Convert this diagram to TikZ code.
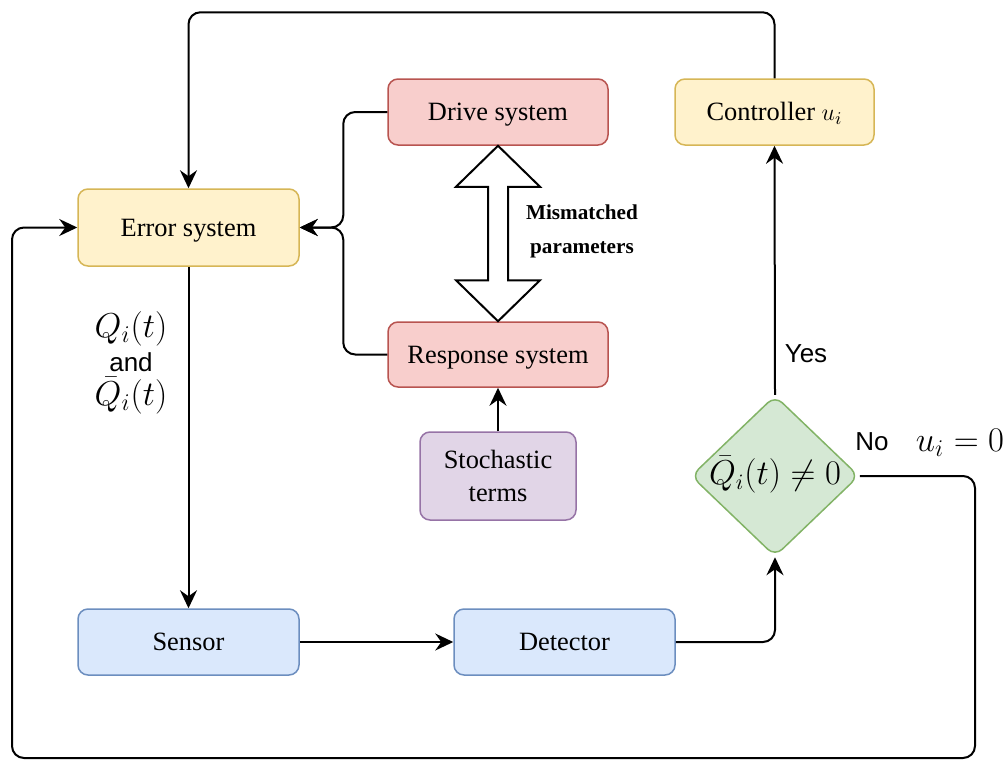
\documentclass[tikz,border=0pt]{standalone}
\usepackage{amsmath}
\usepackage{amssymb}
\usepackage{fontspec}
\setmainfont{Liberation Serif}
\setsansfont{Liberation Sans}
\usetikzlibrary{shapes.geometric, arrows.meta, positioning, calc}

\definecolor{yfill}{HTML}{FFF2CC}\definecolor{ydraw}{HTML}{D6B656}
\definecolor{rfill}{HTML}{F8CECC}\definecolor{rdraw}{HTML}{B85450}
\definecolor{pfill}{HTML}{E1D5E7}\definecolor{pdraw}{HTML}{9673A6}
\definecolor{gfill}{HTML}{D5E8D4}\definecolor{gdraw}{HTML}{82B366}
\definecolor{bfill}{HTML}{DAE8FC}\definecolor{bdraw}{HTML}{6C8EBF}

\begin{document}
\begin{tikzpicture}[x=0.5pt, y=-0.5pt, >={Stealth[length=9pt, width=8.5pt, inset=3pt]},
    line width=1pt, font=\fontsize{13.2}{16.5}\selectfont,
    block/.style={draw, rounded corners=5pt, line width=0.75pt, align=center, inner sep=2pt, minimum height=33pt},
    oneline/.style={text height=9.2pt, text depth=0.6pt},
    yblock/.style={block, fill=yfill, draw=ydraw},
    rblock/.style={block, fill=rfill, draw=rdraw},
    pblock/.style={block, fill=pfill, draw=pdraw},
    bblock/.style={block, fill=bfill, draw=bdraw},
    decision/.style={diamond, draw=gdraw, fill=gfill, line width=0.75pt, rounded corners=5pt, inner sep=0pt, minimum width=84pt, minimum height=80pt},
    mathlbl/.style={font=\fontsize{17}{16}\selectfont},
    sflbl/.style={font=\fontsize{13}{16}\selectfont\sffamily}]
    \useasboundingbox (0,0) rectangle (1006,760);

    \node[rblock, oneline, minimum width=110pt] (drive) at (498,112) {Drive system};
    \node[yblock, oneline, minimum width=99.5pt] (ctrl) at (774.5,112) {Controller $u_i$};
    \node[yblock, oneline, minimum width=110.5pt, minimum height=38.5pt] (err) at (188.5,227.5) {Error system};
    \node[rblock, oneline, minimum width=110pt, minimum height=32.5pt] (resp) at (498,354.5) {Response system};
    \node[pblock, minimum width=78pt, minimum height=44pt] (stoch) at (498,476) {Stochastic\\terms};
    \node[decision, font=\fontsize{16}{16}\selectfont, text height=11.5pt, text depth=3pt] (dec) at (775,476) {$\bar{Q}_i(t)\neq 0$};
    \node[bblock, oneline, minimum width=110.5pt] (sensor) at (188.5,642) {Sensor};
    \node[bblock, oneline, minimum width=110.5pt] (det) at (564.5,642) {Detector};

    % mismatch between drive and response
    \draw[fill=white] (drive.south) -- ++(42,41) -- ++(-32,0) -- ($(resp.north)+(10,-41)$) -- ++(32,0)
        -- (resp.north) -- ++(-42,-41) -- ++(32,0) -- ($(drive.south)+(-10,41)$) -- ++(-32,0) -- cycle;
    \node[align=center, font=\fontsize{10.6}{17}\selectfont\bfseries] (mism) at (582,231) {Mismatched\\parameters};

    \node[mathlbl, align=center] (qlbl) at (131,363) {$Q_i(t)$\\[1pt]{\fontsize{13}{16}\selectfont\sffamily and}\\[1pt]$\bar{Q}_i(t)$};
    \node[sflbl] (yes) at (806,354) {Yes};
    \node[sflbl] (no) at (872,442) {No};
    \node[mathlbl] (uzero) at (960,443) {$u_i=0$};

    \coordinate (br) at (975,758);
    \coordinate (bl) at (12,758);

    \draw[->, rounded corners=6pt] (drive.west) -- ++(-44,0) |- (err.east);
    \draw[->, rounded corners=6pt] (resp.west) -- ++(-44,0) |- (err.east);
    \draw[->] (stoch) -- (resp);
    \draw[->] (err) -- (sensor);
    \draw[->] (sensor) -- (det);
    \draw[->, rounded corners=6pt] (det.east) -| (dec.south);
    \draw[->] (dec.north) -- (ctrl.south);
    \draw[->, rounded corners=6pt] (ctrl.north) -- ++(0,-66) -| (err.north);
    \draw[->, rounded corners=6pt] (dec.east) -| (br) -- (bl) |- (err.west);
\end{tikzpicture}
\end{document}
